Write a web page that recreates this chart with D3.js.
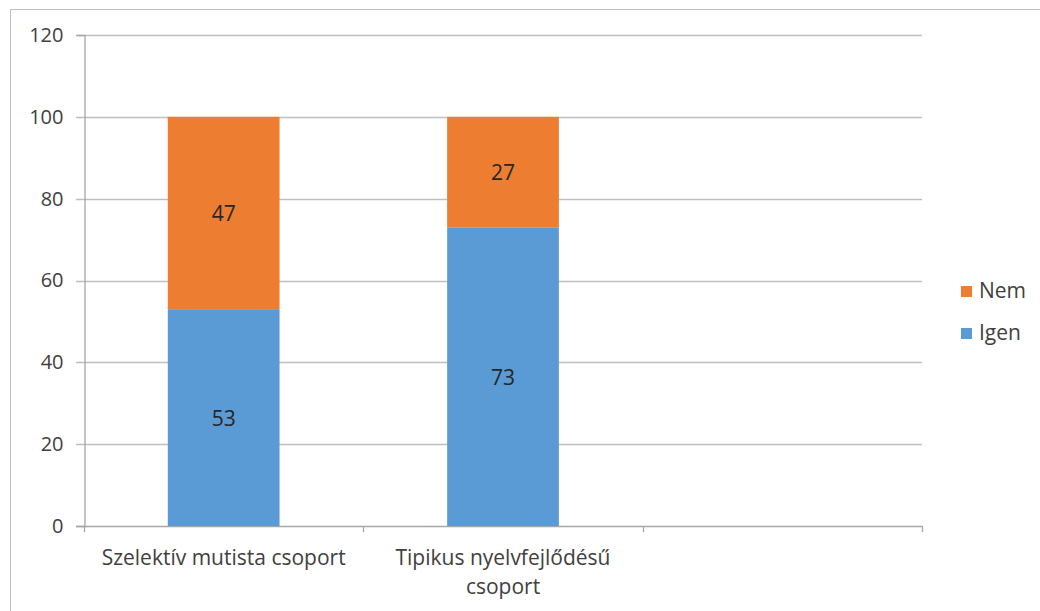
<!DOCTYPE html>
<html lang="hu">
<head>
    <meta charset="UTF-8">
    <title>Igen / Nem</title>
    <style>
        body { margin: 0; background: #fff; }
        svg { display: block; font-family: "Open Sans", Lato, sans-serif; }
        .tick text { fill: #404040; font-size: 20px; }
        .cat { fill: #404040; font-size: 21px; }
        .label { fill: #262626; font-size: 21px; }
        .legend text { fill: #404040; font-size: 21px; }
    </style>
    <script src="https://d3js.org/d3.v7.min.js"></script>
</head>
<body>
    <svg width="1040" height="611"></svg>
    <script>
        // data
        const categories = ["Szelektív mutista csoport", "Tipikus nyelvfejlődésű csoport", ""];
        const igen = [53, 73, null];
        const nem = [47, 27, null];
        const yTicks = [0, 20, 40, 60, 80, 100, 120];
        const seriesNames = ["Igen", "Nem"];
        const colors = { Igen: "#5B9BD5", Nem: "#ED7D31" };

        const width = 1040, height = 611;
        const margin = { left: 84, right: 118, top: 35, bottom: 85 };

        const svg = d3.select("svg");

        // outer border (only top and left visible in the picture)
        svg.append("rect")
            .attr("x", 10.5).attr("y", 9.5)
            .attr("width", 1200).attr("height", 800)
            .attr("fill", "none").attr("stroke", "#bfbfbf");

        const x = d3.scaleBand()
            .domain(categories.map((c, i) => i))
            .range([margin.left, width - margin.right]);

        const y = d3.scaleLinear()
            .domain([0, 120])
            .range([height - margin.bottom, margin.top]);

        // gridlines
        svg.append("g")
            .selectAll("line")
            .data(yTicks)
            .enter().append("line")
            .attr("x1", margin.left - 8)
            .attr("x2", width - margin.right)
            .attr("y1", d => Math.round(y(d)) + 0.5)
            .attr("y2", d => Math.round(y(d)) + 0.5)
            .attr("stroke", d => d === 0 ? "#a6a6a6" : "#bfbfbf")
            .attr("stroke-width", 1.3);

        // y axis
        const yAxis = svg.append("g")
            .attr("transform", `translate(${margin.left + 0.5},0)`)
            .call(d3.axisLeft(y).tickValues(yTicks).tickSize(8).tickPadding(13));
        yAxis.select(".domain").attr("stroke", "#a6a6a6").attr("stroke-width", 1.3);
        yAxis.selectAll(".tick line").remove();
        yAxis.attr("font-family", null).attr("font-size", null);

        // x axis ticks at category boundaries
        const bounds = categories.map((c, i) => x(i) + x.bandwidth()).concat([x(0)]);
        svg.append("g")
            .selectAll("line")
            .data(bounds)
            .enter().append("line")
            .attr("x1", d => Math.round(d) + 0.5)
            .attr("x2", d => Math.round(d) + 0.5)
            .attr("y1", y(0))
            .attr("y2", y(0) + 6)
            .attr("stroke", "#a6a6a6")
            .attr("stroke-width", 1.3);

        // category labels
        categories.forEach((c, i) => {
            const cx = x(i) + x.bandwidth() / 2;
            const t = svg.append("text")
                .attr("class", "cat")
                .attr("text-anchor", "middle")
                .attr("x", cx)
                .attr("y", y(0) + 39);
            // simple word wrap
            const words = c.split(" ");
            let line = [], lines = [];
            words.forEach(w => {
                line.push(w);
                t.text(line.join(" "));
                if (t.node().getComputedTextLength() > 262 && line.length > 1) {
                    line.pop();
                    lines.push(line.join(" "));
                    line = [w];
                }
            });
            if (line.length) lines.push(line.join(" "));
            t.text(null);
            lines.forEach((l, k) => {
                t.append("tspan")
                    .attr("x", cx)
                    .attr("dy", k === 0 ? 0 : 29)
                    .text(l);
            });
        });

        // stacked bars
        const rows = categories.map((c, i) => ({ i, Igen: igen[i], Nem: nem[i] }))
            .filter(d => d.Igen !== null);
        const stacked = d3.stack().keys(seriesNames)(rows);
        const barW = x.bandwidth() * 0.4;

        const layers = svg.append("g")
            .selectAll("g")
            .data(stacked)
            .enter().append("g")
            .attr("fill", d => colors[d.key]);

        layers.selectAll("rect")
            .data(d => d)
            .enter().append("rect")
            .attr("x", d => x(d.data.i) + (x.bandwidth() - barW) / 2)
            .attr("width", barW)
            .attr("y", d => y(d[1]))
            .attr("height", d => y(d[0]) - y(d[1]));

        layers.selectAll("text")
            .data(d => d.map(v => Object.assign({ key: d.key }, v)))
            .enter().append("text")
            .attr("class", "label")
            .attr("text-anchor", "middle")
            .attr("x", d => x(d.data.i) + x.bandwidth() / 2)
            .attr("y", d => (y(d[0]) + y(d[1])) / 2 + 8)
            .text(d => d.data[d.key]);

        // legend
        const legend = svg.append("g").attr("class", "legend")
            .selectAll("g")
            .data(["Nem", "Igen"])
            .enter().append("g")
            .attr("transform", (d, i) => `translate(961,${286 + i * 42})`);
        legend.append("rect")
            .attr("width", 11).attr("height", 11)
            .attr("fill", d => colors[d]);
        legend.append("text")
            .attr("x", 18).attr("y", 12)
            .text(d => d);
    </script>
</body>
</html>
